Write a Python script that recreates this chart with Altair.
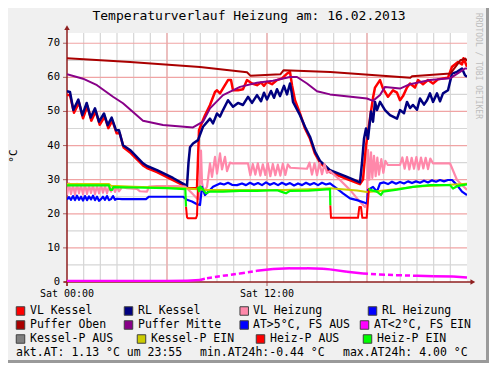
import altair as alt
import pandas as pd

# ---------------- data (hours since Sat 00:00, °C) ----------------
title_text = "Temperaturverlauf Heizung am: 16.02.2013"
y_title = "°C"
watermark = "RRDTOOL / TOBI OETIKER"

x_domain = [0, 24]
y_domain = [0, 73]
x_tick_hours = [0, 12]
x_tick_labels = ["Sat 00:00", "Sat 12:00"]
y_tick_values = [0, 10, 20, 30, 40, 50, 60, 70]
x_minor = list(range(1, 24))
x_major = [6, 12, 18]
y_minor = [5, 15, 25, 35, 45, 55, 65]
y_major = [10, 20, 30, 40, 50, 60, 70]

vl_kessel_h = [0.00, 0.18, 0.42, 0.72, 0.96, 1.22, 1.46, 1.72, 1.96, 2.26, 2.48, 2.72, 2.98, 3.16, 3.40,
               3.78, 4.56, 4.80, 5.40, 6.36, 7.20, 7.26, 7.80, 7.92, 8.16, 8.28, 8.58, 8.88, 9.00, 9.18,
               9.36, 9.66, 9.84, 9.96, 10.26, 10.56, 10.80, 11.10, 11.40, 11.64, 11.82, 12.00, 12.30,
               12.60, 12.90, 13.20, 13.38, 13.50, 13.68, 13.98, 14.28, 14.58, 14.88, 15.18, 15.78,
               16.80, 17.58, 17.76, 17.94, 18.18, 18.36, 18.48, 18.78, 18.96, 19.26, 19.56, 19.80,
               19.98, 20.16, 20.40, 20.58, 20.88, 21.06, 21.36, 21.66, 21.96, 22.26, 22.56, 22.86,
               23.10, 23.46, 23.70, 23.79, 24.00]
vl_kessel_v = [54.8, 54.8, 49.6, 52.6, 48.0, 51.6, 47.3, 50.0, 46.1, 48.5, 45.1, 47.3, 43.6, 43.6, 39.4,
               38.0, 34.2, 33.4, 32.2, 29.9, 27.8, 27.5, 27.5, 44.5, 47.5, 48.9, 51.9, 55.7, 56.2, 55.3,
               56.8, 59.2, 59.2, 56.2, 56.2, 56.5, 59.2, 58.2, 57.7, 58.5, 57.5, 58.7, 58.0,
               59.2, 59.7, 61.1, 61.6, 57.7, 53.3, 49.4, 45.0, 42.0, 37.6, 35.0, 32.2,
               30.2, 28.7, 30.0, 40.0, 48.0, 54.0, 57.0, 59.2, 56.7, 54.3, 56.2, 55.5,
               53.3, 54.5, 57.0, 58.2, 57.0, 59.2, 58.0, 59.2, 58.2, 59.4, 59.7, 59.9,
               63.1, 64.5, 63.8, 65.6, 63.1]

rl_kessel_h = [0.00, 0.18, 0.38, 0.68, 0.92, 1.18, 1.42, 1.68, 1.92, 2.22, 2.44, 2.68, 2.94, 3.12, 3.36,
               3.78, 4.56, 4.80, 5.40, 6.36, 7.20, 7.29, 7.38, 7.56, 7.86, 8.16, 8.58, 8.76, 9.00, 9.18,
               9.36, 9.66, 9.96, 10.26, 10.56, 10.86, 11.10, 11.40, 11.64, 11.82, 12.00, 12.24, 12.42,
               12.60, 12.78, 13.02, 13.20, 13.38, 13.50, 13.56, 13.98, 14.28, 14.58, 14.88, 15.18,
               15.78, 16.80, 17.58, 17.70, 17.82, 17.94, 18.06, 18.24, 18.36, 18.48, 18.60, 18.78,
               19.08, 19.38, 19.80, 19.98, 20.22, 20.40, 20.58, 20.76, 21.00, 21.18, 21.42, 21.60,
               21.78, 21.96, 22.20, 22.38, 22.56, 22.86, 23.10, 23.40, 23.70, 23.88, 24.00]
rl_kessel_v = [55.9, 55.7, 50.4, 53.5, 48.9, 52.5, 48.2, 50.9, 47.0, 49.4, 46.0, 48.2, 44.5, 44.5, 40.1,
               38.7, 34.8, 34.0, 32.8, 30.5, 28.2, 35.0, 39.5, 40.6, 41.6, 45.5, 47.9, 46.5, 49.4, 48.5,
               50.4, 53.3, 51.4, 52.5, 51.9, 54.3, 52.5, 54.8, 53.0, 55.5, 53.5, 56.0, 54.0,
               56.5, 54.5, 57.5, 55.0, 58.2, 55.0, 52.8, 48.9, 45.5, 42.6, 38.2, 35.5,
               32.8, 30.8, 29.2, 35.0, 42.0, 45.0, 42.0, 50.0, 47.0, 52.8, 50.4, 52.8,
               50.4, 48.9, 47.9, 50.4, 49.5, 52.8, 51.0, 51.9, 50.5, 53.8, 52.0, 53.3,
               55.3, 52.8, 55.3, 53.0, 55.3, 56.2, 61.1, 61.6, 62.6, 60.6, 60.2]

vl_heizung_h = [0.00, 0.12, 0.24, 0.36, 0.48, 0.60, 0.72, 0.84, 0.96, 1.08, 1.20, 1.32, 1.44, 1.56, 1.68,
                1.80, 1.92, 2.04, 2.16, 2.28, 2.40, 2.52, 2.64, 2.76, 2.88, 3.00, 3.12, 3.30, 3.60, 4.20,
                4.38, 4.80, 4.92, 5.40, 6.60, 7.08, 7.26, 7.50, 7.80, 7.92, 8.04, 8.10, 8.22, 8.40, 8.58,
                8.70, 8.88, 9.00, 9.18, 9.30, 9.48, 9.60, 9.78, 9.90, 10.86, 11.00, 11.15, 11.30, 11.45,
                11.60, 11.75, 11.90, 12.05, 12.20, 12.35, 12.50, 12.65, 12.80, 12.95, 13.10, 13.25,
                13.40, 14.40, 14.55, 14.70, 14.85, 15.00, 15.15, 15.30, 15.45, 15.60, 15.78, 16.38,
                16.98, 17.58, 17.88, 18.00, 18.06, 18.14, 18.24, 18.32, 18.42, 18.52, 18.62, 18.72,
                18.86, 18.98, 19.10, 19.25, 19.98, 20.12, 20.26, 20.40, 20.54, 20.68, 20.82, 20.96,
                21.10, 21.24, 21.38, 21.52, 21.66, 21.80, 21.96, 22.98, 23.40, 24.00]
vl_heizung_v = [25.5, 28.9, 25.8, 28.6, 25.6, 28.8, 26.0, 28.5, 25.7, 28.7, 25.8, 28.4, 26.1, 28.6, 25.7,
                28.3, 26.0, 28.5, 26.2, 28.2, 26.0, 28.0, 26.5, 28.1, 26.4, 27.9, 26.6, 27.8, 27.5, 27.3,
                26.6, 26.5, 28.0, 28.1, 28.1, 28.0, 27.2, 26.0, 24.5, 24.3, 38.5, 29.0, 26.5, 27.9, 34.8,
                30.8, 36.7, 31.8, 37.7, 33.0, 36.7, 32.5, 35.0, 34.8, 34.8, 31.3, 34.6, 31.5, 34.8,
                31.2, 34.5, 31.4, 34.8, 31.0, 34.6, 31.3, 34.4, 31.2, 34.7, 31.4, 34.5,
                33.5, 33.2, 35.0, 31.5, 34.8, 31.3, 34.9, 31.6, 34.6, 32.0, 32.5, 29.9,
                27.0, 23.5, 22.0, 23.0, 38.7, 30.0, 38.0, 30.5, 37.0, 31.0, 36.5, 31.5,
                36.0, 32.0, 35.5, 34.3, 34.3, 36.5, 33.2, 36.6, 33.0, 36.4, 33.2, 36.6,
                33.0, 36.5, 33.3, 36.4, 33.1, 36.2, 34.8, 34.8, 29.9, 27.0]

rl_heizung_h = [0.00, 0.12, 0.24, 0.36, 0.48, 0.60, 0.72, 0.84, 0.96, 1.08, 1.20, 1.32, 1.44, 1.56, 1.68,
                1.80, 1.92, 2.04, 2.16, 2.28, 2.40, 2.52, 2.64, 2.76, 2.88, 3.00, 3.30, 4.74, 4.92, 6.96,
                7.20, 7.50, 7.80, 7.98, 8.10, 8.28, 8.58, 8.76, 9.18, 9.42, 9.66, 9.90, 10.20, 10.50,
                10.74, 10.98, 11.22, 11.46, 11.70, 11.94, 12.18, 12.42, 12.66, 12.90, 13.14, 13.38,
                13.62, 13.86, 14.10, 14.34, 14.58, 14.82, 15.06, 15.30, 15.54, 15.78, 16.20, 16.56,
                16.98, 17.40, 18.00, 18.06, 18.36, 18.60, 18.78, 19.02, 19.26, 19.50, 19.74, 19.98,
                20.22, 20.46, 20.70, 20.94, 21.18, 21.42, 21.66, 21.90, 22.14, 22.38, 22.62, 22.86,
                23.10, 23.40, 23.70, 24.00]
rl_heizung_v = [24.2, 24.9, 24.1, 25.2, 24.0, 25.3, 24.1, 25.0, 23.9, 25.2, 24.0, 25.1, 24.2, 25.3, 24.0,
                25.0, 23.8, 24.3, 25.0, 24.1, 25.2, 24.0, 24.3, 25.2, 24.1, 24.4, 24.3, 24.3, 25.0, 25.0,
                24.1, 23.6, 22.8, 22.6, 27.9, 25.5, 27.0, 27.9, 28.9, 28.6, 29.1, 28.5, 28.4, 28.9,
                28.4, 29.1, 28.5, 29.0, 28.4, 29.2, 28.5, 29.0, 28.4, 29.1, 28.5, 29.0,
                28.3, 28.9, 28.4, 29.1, 28.5, 29.0, 28.4, 29.1, 28.6, 28.9, 27.4, 26.0,
                24.5, 24.0, 23.0, 27.0, 27.9, 26.5, 28.9, 29.2, 28.7, 29.4, 28.8, 29.3,
                28.9, 29.5, 29.0, 29.5, 29.1, 29.7, 29.2, 29.8, 29.4, 29.9, 29.5, 29.9,
                29.9, 28.4, 26.5, 25.5]

puffer_oben_h = [0.00, 3.78, 7.98, 10.80, 11.00, 12.80, 13.00, 15.80, 20.60, 20.70, 23.00, 23.60, 23.90, 24.00]
puffer_oben_v = [65.6, 64.5, 63.0, 61.5, 60.5, 60.9, 62.1, 61.6, 59.9, 60.3, 61.1, 65.0, 65.5, 64.8]

puffer_mitte_h = [0.00, 0.96, 1.80, 2.76, 3.36, 4.56, 5.76, 7.56, 8.16, 8.58, 9.36, 10.38, 11.40, 12.36,
                  13.38, 13.80, 14.40, 15.00, 15.78, 18.00, 18.36, 18.78, 19.08, 19.98, 20.58, 21.78,
                  22.98, 23.58, 23.88, 24.00]
puffer_mitte_v = [60.9, 59.6, 57.7, 54.3, 52.4, 47.3, 46.0, 45.3, 47.0, 50.9, 54.8, 57.2, 58.4, 59.0,
                  60.1, 60.1, 58.2, 55.9, 55.0, 53.8, 53.1, 54.8, 57.2, 56.7, 58.0, 59.2,
                  59.7, 61.6, 62.6, 62.6]

at_h = [0.00, 3.00, 6.00, 7.20, 7.98, 8.40, 9.36, 10.38, 11.40, 12.36, 13.38, 14.40, 15.36, 15.78,
        16.80, 17.76, 18.78, 19.80, 21.00, 22.00, 23.16, 24.00]
at_v = [0.3, 0.3, 0.3, 0.35, 0.6, 1.1, 1.8, 2.5, 3.3, 3.8, 4.0, 4.0, 3.9, 3.7,
        3.0, 2.5, 2.2, 2.0, 1.8, 1.7, 1.6, 1.3]
at_dashed = [0, 0, 0, 0, 1, 1, 1, 1, 0, 0, 0, 0, 0, 0,
             0, 1, 1, 1, 0, 0, 0, 0]   # 1 = the piece starting at this point is dashed

kessel_p_ein_h = [0.00, 2.52, 2.64, 4.00, 7.10, 7.80, 8.40, 10.00, 13.00, 15.00, 15.78, 17.40, 18.00,
                  18.60, 19.80, 21.00, 22.50, 24.00]
kessel_p_ein_v = [28.7, 28.7, 28.2, 27.9, 27.5, 27.2, 27.0, 27.0, 27.0, 27.3, 27.5, 26.8, 26.4,
                  26.6, 27.3, 28.0, 28.4, 28.8]

heiz_p_ein_h = [0.00, 2.52, 2.60, 2.70, 2.78, 4.00, 6.00, 7.10, 7.14,
                7.86, 7.92, 8.00, 8.16, 8.34, 8.58, 9.36, 10.38, 11.40, 12.60, 13.02, 13.14, 13.38,
                14.50, 15.36, 15.78, 15.80,
                18.12, 18.18, 18.60, 18.84, 18.96, 19.80, 20.76, 21.78, 22.98, 23.16, 23.46, 24.00]
heiz_p_ein_v = [28.3, 28.3, 27.0, 27.0, 27.8, 27.7, 27.5, 27.2, 22.1,
                27.9, 26.6, 28.0, 27.1, 26.0, 26.5, 26.5, 26.7, 26.7, 26.9, 26.2, 26.0, 26.7,
                26.8, 27.1, 27.2, 22.5,
                27.5, 27.0, 26.5, 25.5, 26.5, 27.1, 27.9, 28.4, 28.4, 27.4, 28.2, 28.6]
heiz_p_ein_seg = [0] * 9 + [1] * 17 + [2] * 12

heiz_p_aus_h = [7.14, 7.20, 7.26, 7.74, 7.80, 7.86,
                15.80, 15.84, 17.46, 17.54, 17.64, 17.72, 17.98, 18.12]
heiz_p_aus_v = [22.1, 19.0, 18.7, 18.7, 19.5, 27.9,
                22.5, 18.8, 18.8, 22.0, 22.0, 18.8, 18.8, 27.5]
heiz_p_aus_seg = [0] * 6 + [1] * 8

legend_labels = ["VL Kessel", "RL Kessel", "VL Heizung", "RL Heizung",
                 "Puffer Oben", "Puffer Mitte", "AT>5°C, FS AUS", "AT<2°C, FS EIN",
                 "Kessel-P AUS", "Kessel-P EIN", "Heiz-P AUS", "Heiz-P EIN"]
legend_colors = ["#ff0000", "#000080", "#ff88aa", "#0000ff",
                 "#aa0000", "#880088", "#0000ff", "#ff00ff",
                 "#808080", "#cccc00", "#ff0000", "#00ff00"]
stats_texts = ["akt.AT: 1.13 °C um 23:55", "min.AT24h:-0.44 °C", "max.AT24h: 4.00 °C"]

# ---------------- layout (pixels relative to the plot area) ----------------
legend_sq_x = [-46.5, 61.5, 177.2, 305.5, -46.5, 61.5, 177.2, 297.5, -46.5, 74.5, 193.5, 300.5]
legend_tx_x = [-37, 71, 186, 315, -37, 71, 186, 307, -37, 84, 203, 310]
legend_row_y = [278, 292, 306]
stats_x = [-51, 133, 276]
stats_y = 320

FONT = "DejaVu Sans Mono"
AXIS_COL = "#8f1f1f"

xs = alt.Scale(domain=x_domain, nice=False, zero=False)
ys = alt.Scale(domain=y_domain, nice=False, zero=False)


def X(field):
    return alt.X(field, scale=xs, axis=None)


def Y(field):
    return alt.Y(field, scale=ys, axis=None)


layers = []

# white plot area
canvas = pd.DataFrame({"x0": [x_domain[0]], "x1": [x_domain[1]], "y0": [y_domain[0]], "y1": [y_domain[1]]})
layers.append(alt.Chart(canvas).mark_rect(color="#ffffff", opacity=1).encode(
    x=X("x0:Q"), x2="x1:Q", y=Y("y0:Q"), y2="y1:Q"))

# grid
grid_rows = []
for g in x_minor:
    grid_rows.append({"kind": "minor", "x0": g, "x1": g, "y0": y_domain[0], "y1": y_domain[1]})
for g in y_minor:
    grid_rows.append({"kind": "minor", "x0": x_domain[0], "x1": x_domain[1], "y0": g, "y1": g})
for g in x_major:
    grid_rows.append({"kind": "major", "x0": g, "x1": g, "y0": y_domain[0], "y1": y_domain[1]})
for g in y_major:
    grid_rows.append({"kind": "major", "x0": x_domain[0], "x1": x_domain[1], "y0": g, "y1": g})
grid_df = pd.DataFrame(grid_rows)
for kind, col in [("minor", "#d6d6d6"), ("major", "#f0a4a4")]:
    sub = grid_df[grid_df["kind"] == kind].reset_index(drop=True)
    layers.append(alt.Chart(sub).mark_rule(color=col, strokeWidth=1.2, clip=False).encode(
        x=X("x0:Q"), x2="x1:Q", y=Y("y0:Q"), y2="y1:Q"))

# ticks and tick labels
tick_x = pd.DataFrame({"h": x_tick_hours, "lab": x_tick_labels})
tick_y = pd.DataFrame({"v": y_tick_values, "lab": [str(v) for v in y_tick_values]})
layers.append(alt.Chart(tick_x).mark_text(font=FONT, fontSize=10, color="#000000", align="center",
                                          baseline="top", dy=7).encode(
    x=X("h:Q"), y=alt.value(249), text="lab:N"))
layers.append(alt.Chart(tick_y).mark_text(font=FONT, fontSize=10.5, color="#000000", align="right",
                                          baseline="middle", dx=-7).encode(
    y=Y("v:Q"), x=alt.value(0), text="lab:N"))
layers.append(alt.Chart(tick_y).mark_tick(color=AXIS_COL, size=4, thickness=1, orient="horizontal",
                                          xOffset=-2, clip=False).encode(
    y=Y("v:Q"), x=alt.value(0)))
layers.append(alt.Chart(tick_x).mark_tick(color=AXIS_COL, size=4, thickness=1, orient="vertical",
                                          yOffset=2, clip=False).encode(
    x=X("h:Q"), y=alt.value(249)))

# axes lines + arrows
layers.append(alt.Chart(pd.DataFrame({"a": [0], "b": [-1.2], "c": [74.3]})).mark_rule(
    color=AXIS_COL, strokeWidth=1.5, clip=False).encode(
    x=X("a:Q"), y=Y("b:Q"), y2="c:Q"))
layers.append(alt.Chart(pd.DataFrame({"a": [0], "b": [-0.2], "c": [24.25]})).mark_rule(
    color=AXIS_COL, strokeWidth=1.5, clip=False).encode(
    y=Y("a:Q"), x=X("b:Q"), x2="c:Q"))
layers.append(alt.Chart(pd.DataFrame({"a": [0], "b": [74.6]})).mark_point(
    shape="triangle-up", filled=True, size=30, color=AXIS_COL, opacity=1, clip=False).encode(
    x=X("a:Q"), y=Y("b:Q")))
layers.append(alt.Chart(pd.DataFrame({"a": [24.35], "b": [0]})).mark_point(
    shape="triangle-right", filled=True, size=30, color=AXIS_COL, opacity=1, clip=False).encode(
    x=X("a:Q"), y=Y("b:Q")))


def line_layer(h, v, color, width, seg=None, dash=None):
    df = pd.DataFrame({"h": h, "v": v, "i": list(range(len(h))),
                       "seg": seg if seg is not None else [0] * len(h)})
    kw = dict(color=color, strokeWidth=width, clip=True, strokeJoin="round", strokeCap="butt")
    if dash:
        kw["strokeDash"] = dash
    return alt.Chart(df).mark_line(**kw).encode(
        x=X("h:Q"), y=Y("v:Q"), detail="seg:N", order="i:Q")


layers.append(line_layer(vl_kessel_h, vl_kessel_v, legend_colors[0], 2.5))
layers.append(line_layer(rl_kessel_h, rl_kessel_v, legend_colors[1], 2.5))
layers.append(line_layer(vl_heizung_h, vl_heizung_v, legend_colors[2], 2.2))
layers.append(line_layer(rl_heizung_h, rl_heizung_v, legend_colors[3], 2.2))
layers.append(line_layer(puffer_oben_h, puffer_oben_v, legend_colors[4], 2))
layers.append(line_layer(puffer_mitte_h, puffer_mitte_v, legend_colors[5], 2))

# outside temperature: solid and dashed pieces
solid_h, solid_v, solid_s, dash_h, dash_v, dash_s = [], [], [], [], [], []
for k in range(len(at_h) - 1):
    tgt = (dash_h, dash_v, dash_s) if at_dashed[k] else (solid_h, solid_v, solid_s)
    tgt[0].extend([at_h[k], at_h[k + 1]])
    tgt[1].extend([at_v[k], at_v[k + 1]])
    tgt[2].extend([k, k])
layers.append(line_layer(solid_h, solid_v, legend_colors[7], 2.5, seg=solid_s))
layers.append(line_layer(dash_h, dash_v, legend_colors[7], 2.5, seg=dash_s, dash=[5, 3]))

layers.append(line_layer(kessel_p_ein_h, kessel_p_ein_v, legend_colors[9], 2))
layers.append(line_layer(heiz_p_aus_h, heiz_p_aus_v, legend_colors[10], 2, seg=heiz_p_aus_seg))
layers.append(line_layer(heiz_p_ein_h, heiz_p_ein_v, legend_colors[11], 2.2, seg=heiz_p_ein_seg))

# texts
layers.append(alt.Chart(pd.DataFrame({"t": [title_text]})).mark_text(
    font=FONT, fontSize=13, color="#000000", align="center", baseline="middle").encode(
    text="t:N", x=alt.value(182), y=alt.value(-17)))
layers.append(alt.Chart(pd.DataFrame({"t": [y_title]})).mark_text(
    font=FONT, fontSize=11, color="#000000", align="center", baseline="middle", angle=270).encode(
    text="t:N", x=alt.value(-53), y=alt.value(123)))
layers.append(alt.Chart(pd.DataFrame({"t": [watermark]})).mark_text(
    font=FONT, fontSize=8, color="#bdbdbd", align="center", baseline="middle", angle=90).encode(
    text="t:N", x=alt.value(411), y=alt.value(33)))

# legend
leg = pd.DataFrame({
    "label": legend_labels, "color": legend_colors,
    "sx": legend_sq_x, "tx": legend_tx_x,
    "y": [legend_row_y[i // 4] for i in range(len(legend_labels))],
})
layers.append(alt.Chart(leg).mark_square(size=72, opacity=1, stroke="#404040", strokeWidth=1).encode(
    x=alt.X("sx:Q", scale=None), y=alt.Y("y:Q", scale=None),
    fill=alt.Color("color:N", scale=None)))
layers.append(alt.Chart(leg).mark_text(font=FONT, fontSize=11.5, color="#000000", align="left",
                                       baseline="middle").encode(
    x=alt.X("tx:Q", scale=None), y=alt.Y("y:Q", scale=None), text="label:N"))
st = pd.DataFrame({"t": stats_texts, "x": stats_x, "y": [stats_y] * len(stats_texts)})
layers.append(alt.Chart(st).mark_text(font=FONT, fontSize=11.5, color="#000000", align="left",
                                      baseline="middle").encode(
    x=alt.X("x:Q", scale=None), y=alt.Y("y:Q", scale=None), text="t:N"))

# frame shadow (right / bottom)
layers.append(alt.Chart(pd.DataFrame({"k": [0]})).mark_rule(color="#9a9a9a", strokeWidth=3, clip=False).encode(
    x=alt.value(420.5), y=alt.value(-25), y2=alt.value(330)))
layers.append(alt.Chart(pd.DataFrame({"k": [0]})).mark_rule(color="#9a9a9a", strokeWidth=3, clip=False).encode(
    x=alt.value(-59), x2=alt.value(422), y=alt.value(328.5)))

chart = alt.layer(*layers).properties(
    width=400, height=249,
    padding={"left": 59, "top": 25, "right": 22, "bottom": 81},
    autosize=alt.AutoSizeParams(type="none"),
    background="#f0f0f0",
).configure_view(stroke=None)

chart.save("out.html", embed_options={"renderer": "svg", "actions": False})
